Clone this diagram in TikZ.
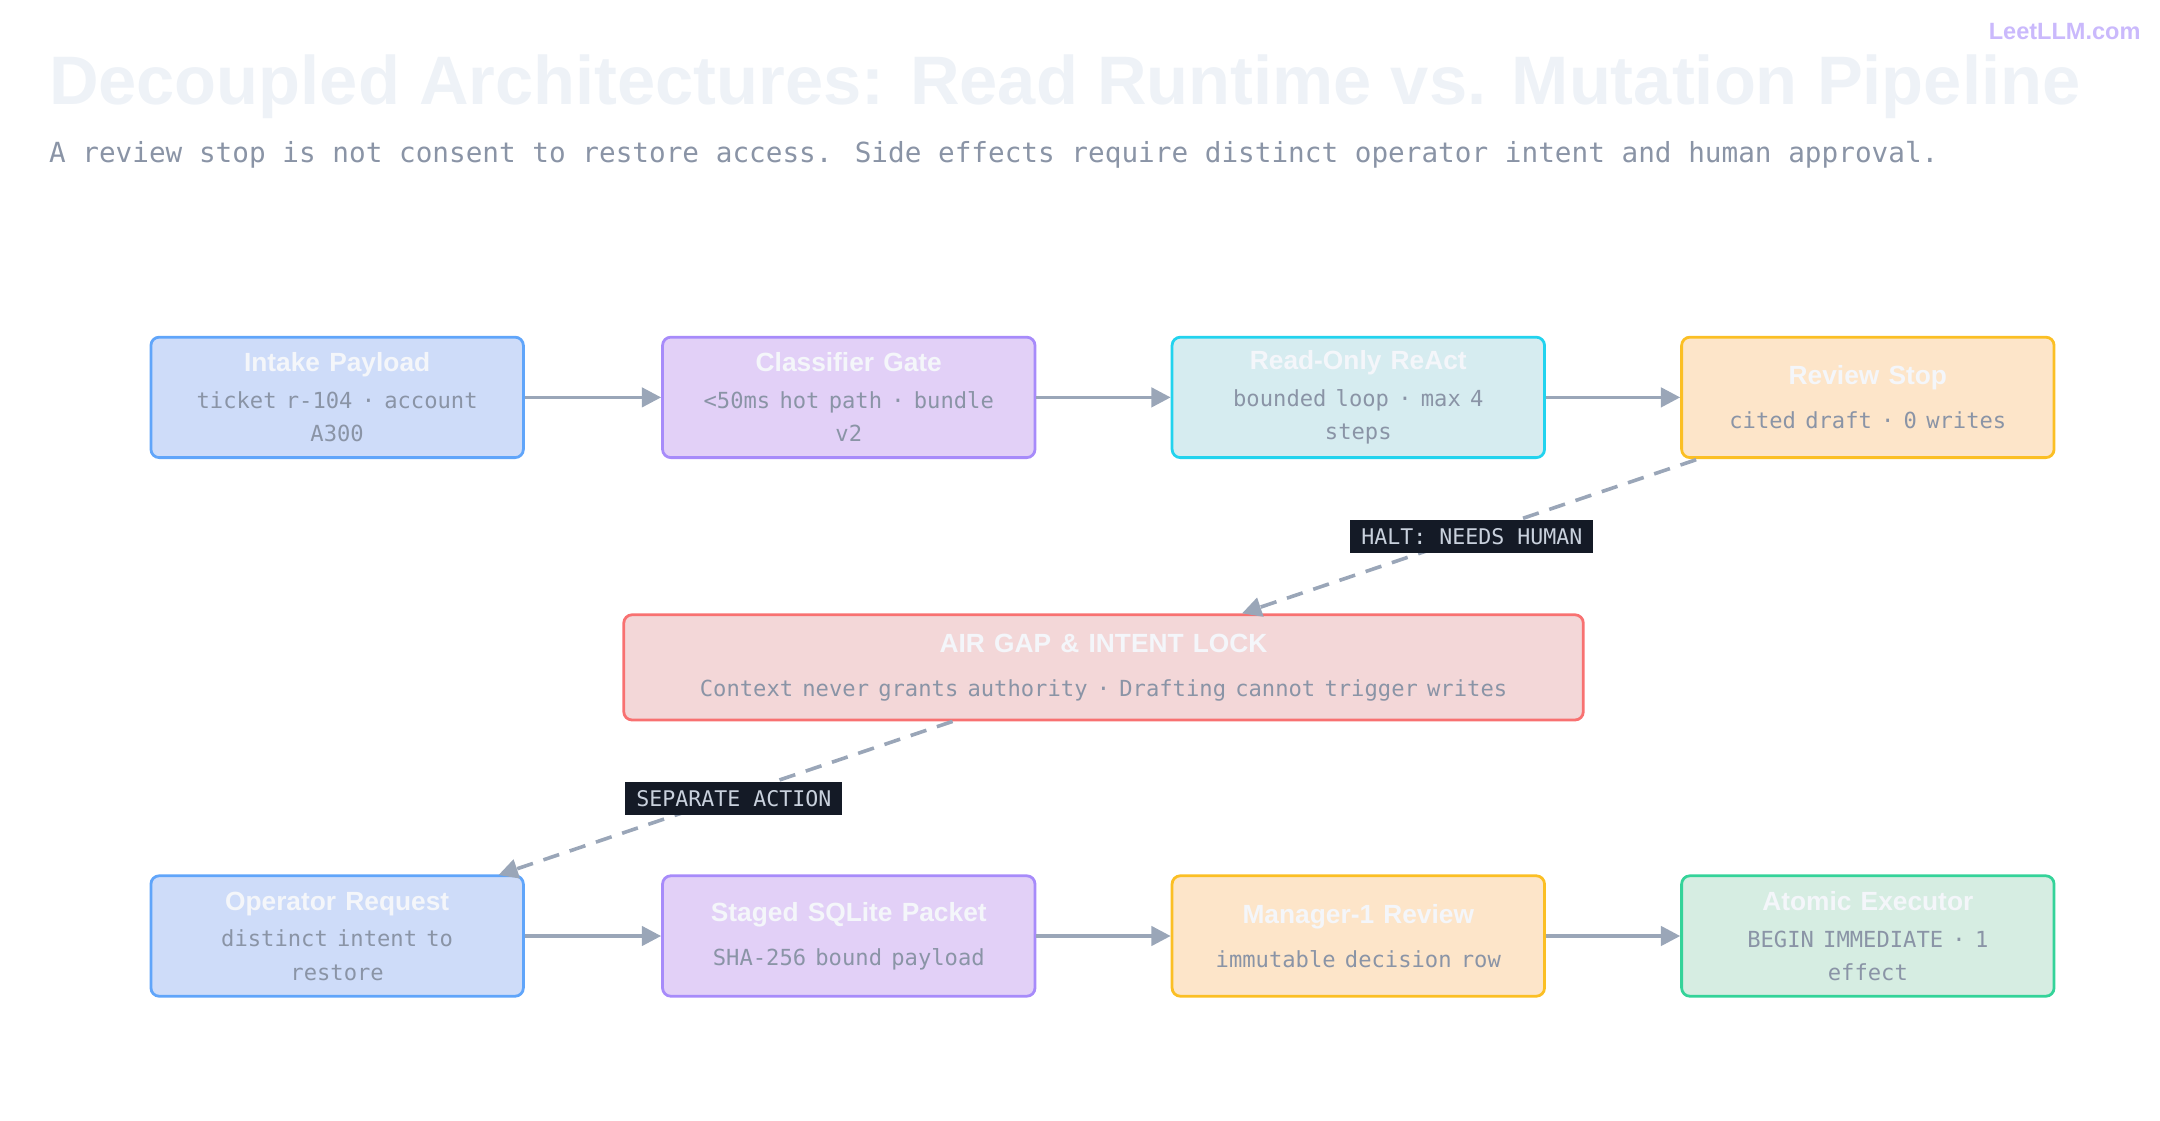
\documentclass[tikz,border=0pt]{standalone}
\usepackage{fontspec}
\setmainfont{DejaVu Sans}
\newfontfamily\monofont{DejaVu Sans Mono}
\newfontfamily\headfont{Liberation Sans}
\usetikzlibrary{arrows.meta,positioning}
\definecolor{edgegray}{HTML}{9AA6B8}
\definecolor{bodygray}{HTML}{8A94A6}
\definecolor{titlewhite}{HTML}{F4F6FA}
\definecolor{headgray}{HTML}{EEF2F7}
\definecolor{tagbg}{HTML}{141A26}
\definecolor{tagfg}{HTML}{C9D1DD}
\definecolor{blueF}{HTML}{CEDCF9}\definecolor{blueD}{HTML}{60A5FA}
\definecolor{purpF}{HTML}{E2D0F7}\definecolor{purpD}{HTML}{A78BFA}
\definecolor{cyanF}{HTML}{D6ECF0}\definecolor{cyanD}{HTML}{22D3EE}
\definecolor{orngF}{HTML}{FDE5C9}\definecolor{orngD}{HTML}{FBBF24}
\definecolor{redF}{HTML}{F3D7D8}\definecolor{redD}{HTML}{F87171}
\definecolor{grnF}{HTML}{D6EDE2}\definecolor{grnD}{HTML}{34D399}
\newcommand{\boxtext}[2]{{\headfont\bfseries\fontsize{9.5}{11}\selectfont\color{titlewhite}#1}\\[4pt]{\monofont\fontsize{8}{9.3}\selectfont\color{bodygray}#2}}
\begin{document}
\begin{tikzpicture}[x=0.5pt,y=-0.5pt,
    stage/.style = {draw, line width=1pt, rounded corners=3pt, minimum width=134.5pt, minimum height=43.5pt, text width=124pt, align=center, inner sep=2pt},
    flow/.style = {-{Triangle[length=7pt,width=7pt]}, edgegray, line width=1.3pt},
    gap/.style = {-{Triangle[length=7pt,width=7pt]}, edgegray, line width=1.3pt, dash pattern=on 6pt off 4pt},
    tag/.style = {fill=tagbg, text=tagfg, font=\monofont\fontsize{7.8}{9}\selectfont, inner xsep=4pt, inner ysep=3pt},
  ]
  \useasboundingbox (0,0) rectangle (1560,809);
  \node[anchor=north east, text=purpD!60, font=\headfont\bfseries\fontsize{8.5}{10}\selectfont] (brand) at (1553,10) {LeetLLM.com};
  \node[anchor=west, text=headgray, font=\headfont\bfseries\fontsize{24.8}{30}\selectfont, inner sep=0pt] (title) at (35,63) {Decoupled Architectures: Read Runtime vs. Mutation Pipeline};
  \node[anchor=west, text=bodygray, font=\monofont\fontsize{10}{12}\selectfont, inner sep=0pt] (sub) at (35,112) {A review stop is not consent to restore access. Side effects require distinct operator intent and human approval.};

  % read runtime
  \node[stage, draw=blueD, fill=blueF] (intake) at (243.5,287) {\boxtext{Intake Payload}{ticket r-104 · account\\A300}};
  \node[stage, draw=purpD, fill=purpF] (classify) at (613,287) {\boxtext{Classifier Gate}{<50ms hot path · bundle\\v2}};
  \node[stage, draw=cyanD, fill=cyanF] (react) at (981,287) {\boxtext{Read-Only ReAct}{bounded loop · max 4\\steps}};
  \node[stage, draw=orngD, fill=orngF] (review) at (1349,287) {\boxtext{Review Stop}{cited draft · 0 writes}};
  \draw[flow] (intake) -- (classify);
  \draw[flow] (classify) -- (react);
  \draw[flow] (react) -- (review);

  % air gap
  \node[stage, draw=redD, fill=redF, minimum width=346.5pt, text width=340pt, minimum height=38pt] (airgap) at (797,482) {\boxtext{AIR GAP \& INTENT LOCK}{Context never grants authority · Drafting cannot trigger writes}};

  % mutation pipeline
  \node[stage, draw=blueD, fill=blueF] (operator) at (243.5,676) {\boxtext{Operator Request}{distinct intent to\\restore}};
  \node[stage, draw=purpD, fill=purpF] (staged) at (613,676) {\boxtext{Staged SQLite Packet}{SHA-256 bound payload}};
  \node[stage, draw=orngD, fill=orngF] (manager) at (981,676) {\boxtext{Manager-1 Review}{immutable decision row}};
  \node[stage, draw=grnD, fill=grnF] (executor) at (1349,676) {\boxtext{Atomic Executor}{BEGIN IMMEDIATE · 1\\effect}};
  \draw[flow] (operator) -- (staged);
  \draw[flow] (staged) -- (manager);
  \draw[flow] (manager) -- (executor);

  \coordinate (haltA) at (1225,332);
  \coordinate (haltB) at (897,443);
  \coordinate (sepA) at (688,521);
  \coordinate (sepB) at (360,632);
  \draw[gap] (haltA) -- node[tag, pos=0.5, xshift=1pt] (halt) {HALT: NEEDS HUMAN} (haltB);
  \draw[gap] (sepA) -- node[tag, pos=0.5, xshift=3pt] (sep) {SEPARATE ACTION} (sepB);
\end{tikzpicture}
\end{document}
